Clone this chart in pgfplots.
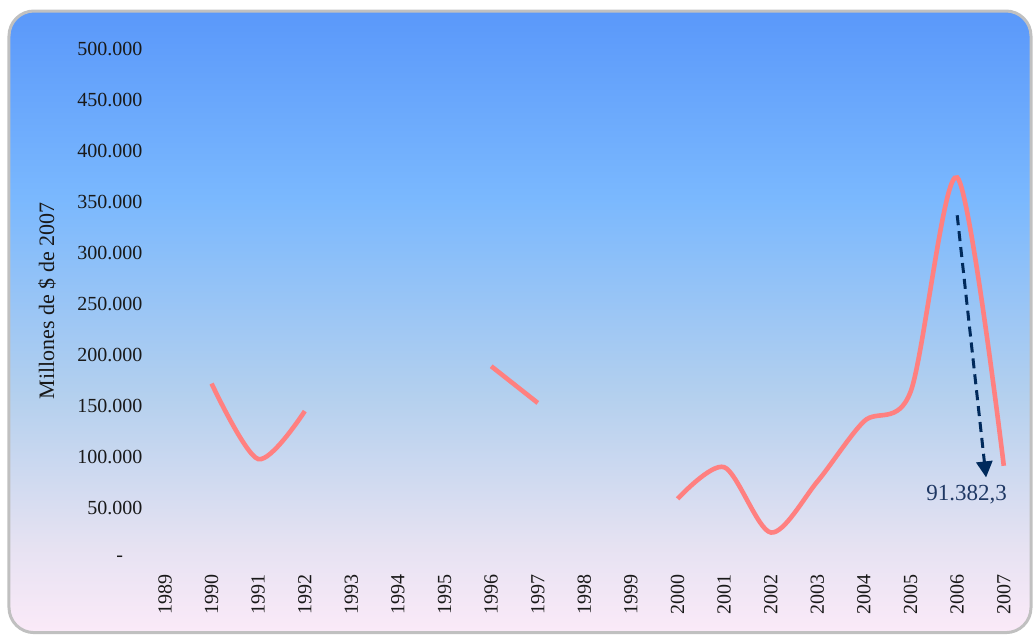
\documentclass[border=0pt]{standalone}
\usepackage{pgfplots}
\pgfplotsset{compat=1.18}
\usepackage{fontspec}
\setmainfont{Liberation Serif}
\usetikzlibrary{arrows.meta}
\definecolor{c0}{RGB}{251,234,248}
\definecolor{c1}{RGB}{230,226,242}
\definecolor{c2}{RGB}{180,208,238}
\definecolor{c3}{RGB}{122,184,254}
\definecolor{c4}{RGB}{90,152,250}
\definecolor{salmon}{RGB}{255,128,128}
\definecolor{navy}{RGB}{0,42,92}
\definecolor{lbl}{RGB}{31,56,100}
\definecolor{ticktxt}{RGB}{25,25,25}
\pgfdeclareverticalshading{bgshade}{100bp}{color(0bp)=(c0); color(25bp)=(c0); color(32bp)=(c1); color(44bp)=(c2); color(60bp)=(c3); color(75bp)=(c4); color(100bp)=(c4)}
\begin{document}
\begin{tikzpicture}
\useasboundingbox (-70.85pt,-37.5pt) rectangle (446.15pt,279.5pt);
\shade[shading=bgshade, rounded corners=12.5pt] (-66.35pt,-36.8pt) rectangle (444.65pt,274pt);
\draw[line width=1.5pt, draw={rgb,255:red,192;green,192;blue,192}, rounded corners=12.5pt] (-66.35pt,-36.8pt) rectangle (444.65pt,274pt);
\begin{axis}[
  at={(0,0)}, anchor=south west,
  scale only axis,
  width=442.7pt, height=255pt,
  xmin=1988.5, xmax=2007.5,
  ymin=0, ymax=500000,
  scaled y ticks=false,
  axis line style={draw=none},
  major tick length=0pt,
  xtick={1989,...,2007},
  xticklabels={1989,1990,1991,1992,1993,1994,1995,1996,1997,1998,1999,2000,2001,2002,2003,2004,2005,2006,2007},
  ytick={0,50000,100000,150000,200000,250000,300000,350000,400000,450000,500000},
  yticklabels={{\makebox[13pt][l]{-}},50.000,100.000,150.000,200.000,250.000,300.000,350.000,400.000,450.000,500.000},
  xticklabel style={rotate=90, anchor=east, inner sep=0pt, xshift=-7.5pt, font=\fontsize{10}{12}\selectfont, text=ticktxt},
  yticklabel style={anchor=east, inner sep=0pt, xshift=0.6pt, font=\fontsize{10}{12}\selectfont, text=ticktxt},
  clip=false,
]
\addplot[salmon, line width=2.3pt, smooth, tension=0.5] coordinates {(1990,172000) (1991,98000) (1992,145000)};
\addplot[salmon, line width=2.3pt, smooth, tension=0.5] coordinates {(1996,189000) (1997,153000)};
\addplot[salmon, line width=2.3pt, smooth, tension=0.5] coordinates {(2000,59000) (2001,90000) (2002,26000) (2003,76000) (2004,135000) (2005,164000) (2006,374000) (2007,91382.3)};
\draw[navy, line width=1.5pt, dash pattern=on 5pt off 3pt, -{Triangle[length=8pt,width=8pt]}] (axis cs:2006.0,337000) -- (axis cs:2006.62,80000);
\node[text=lbl, font=\fontsize{11.5}{13}\selectfont] at (axis cs:2006.2,63500) {91.382,3};
\end{axis}
\node[rotate=90, font=\fontsize{11}{13}\selectfont, text=ticktxt] at (-47.35pt,129pt) {Millones de \$ de 2007};
\end{tikzpicture}
\end{document}
